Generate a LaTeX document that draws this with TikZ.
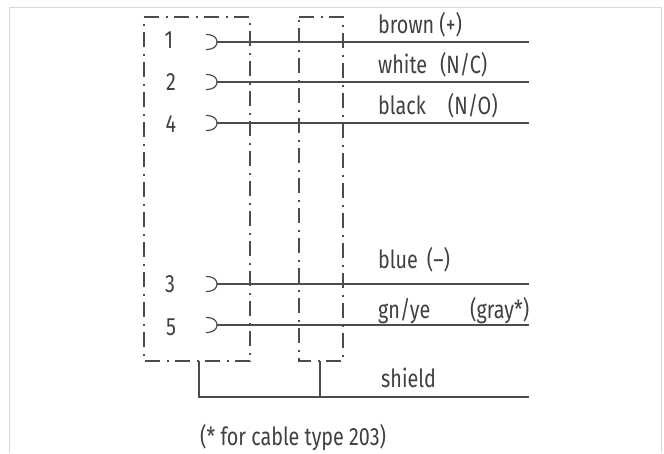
\documentclass[tikz,border=0pt]{standalone}
\usepackage{fontspec}
\setmainfont[FakeStretch=0.79]{Fira Sans}
\definecolor{ink}{gray}{0.3}
\tikzset{
 x=1pt,y=-1pt,
 wire/.style={draw=ink,line width=1.5pt},
 frame/.style={draw=ink,line width=1.5pt,dash pattern=on 15pt off 6.5pt on 2pt off 6.5pt},
 lbl/.style={inner sep=0pt,anchor=base west,text=black!75,font=\fontsize{25}{28}\selectfont},
 pin/.style={inner sep=0pt,anchor=base,text=black!75,font=\fontsize{25}{28}\selectfont},
 hook/.style={draw=ink,line width=1.2pt}
}
\begin{document}
\begin{tikzpicture}
\useasboundingbox (0,0) rectangle (664,453);
\fill[white] (0,0) rectangle (664,453);
\draw[black!15,line width=1pt] (9,453) -- (9,7) -- (661,7) -- (661,453);
% frames
\draw[frame] (144,17) -- (250,17) -- (250,361) -- (144,361) -- cycle;
\draw[frame] (299,17) -- (343,17) -- (343,361) -- (299,361) -- cycle;
% wire ends
\foreach \n/\y in {a/42,b/82,c/123,d/284,e/325}{
 \coordinate (\n s) at (217,\y);
 \coordinate (\n e) at (529,\y);
 \draw[wire] (\n s) -- (\n e);
 \draw[hook] (206,\y-7.5) .. controls (214,\y-7.5) and (217,\y-4) .. (\n s) .. controls (217,\y+4) and (214,\y+7.5) .. (206,\y+7.5);
}
% shield
\coordinate (sa) at (199,361);
\coordinate (sb) at (320,361);
\coordinate (sj) at (320,397);
\coordinate (se) at (529,397);
\draw[wire] (sa) |- (se);
\draw[wire] (sb) -- (sj);
% pins
\node[pin] (p1) at (169,48) {1};
\node[pin] (p2) at (171,90) {2};
\node[pin] (p4) at (171,132) {4};
\node[pin] (p3) at (170,292) {3};
\node[pin] (p5) at (171,335) {5};
% labels
\node[lbl] (l1) at (378,33) {brown (+)};
\node[lbl] (l2) at (378,73) {white\hspace{13pt}(N/C)};
\node[lbl] (l3) at (378,114) {black\hspace{22pt}(N/O)};
\node[lbl] (l4) at (378,268) {blue\hspace{9pt}(–)};
\node[lbl] (l5) at (378,318) {gn/ye};
\node[lbl] (l6) at (470,318) {(gray*)};
\node[lbl] (l7) at (381,387) {shield};
\node[lbl] (l8) at (200,445) {(* for cable type 203)};
\end{tikzpicture}
\end{document}
